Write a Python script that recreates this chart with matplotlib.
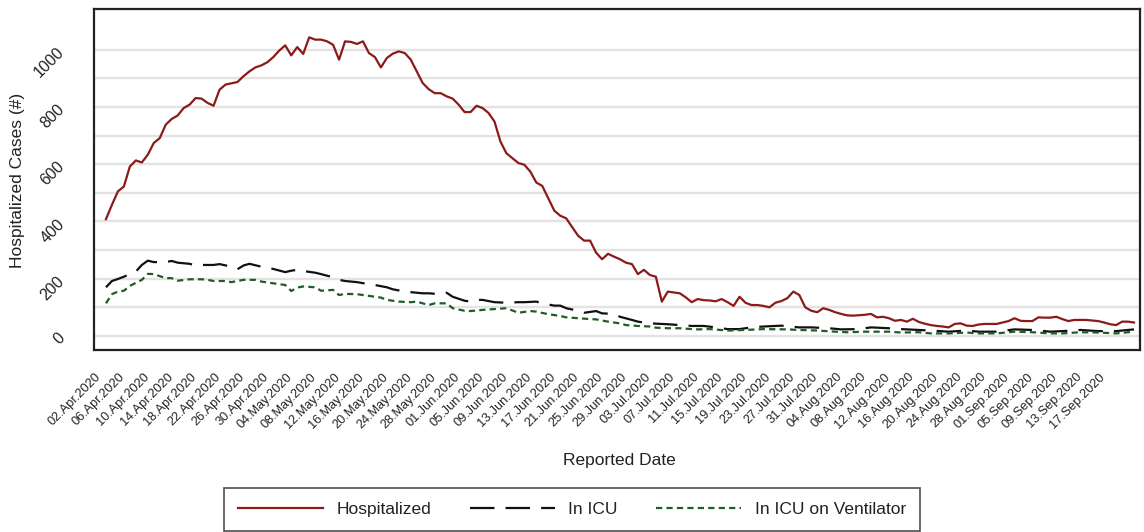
import numpy as np
import matplotlib
matplotlib.use("Agg")
import matplotlib.pyplot as plt
import matplotlib.transforms as mtransforms
import datetime as dt

plt.rcParams['font.family'] = ['Liberation Sans', 'DejaVu Sans']

start_date = dt.date(2020, 4, 2)

# ---- data (days after 02.Apr.2020, values) ----
hosp_days = [0, 1, 2, 3, 4, 5, 6, 7, 8, 9, 10, 11, 12, 13, 14, 15, 16, 17, 18, 19, 20,
             22, 23, 24, 25, 26, 27, 28, 29, 30, 31, 32, 33, 34, 35, 36, 37, 38, 39, 40,
             41, 42, 43, 44, 45, 46, 47, 48, 49, 50, 51, 52, 53, 54, 55, 56, 57, 58, 59,
             60, 61, 62, 63, 64, 65, 66, 67, 69, 70, 71, 72, 73, 74, 75, 76, 77, 78, 79,
             80, 81, 82, 83, 84, 85, 86, 87, 88, 89, 90, 91, 92, 93, 94, 96, 97, 98, 99,
             100, 101, 102, 103, 104, 105, 106, 107, 108, 109, 110, 111, 112, 113, 114,
             115, 116, 117, 118, 119, 120, 121, 122, 123, 124, 125, 127, 128, 129, 130,
             131, 132, 133, 134, 135, 136, 137, 138, 139, 140, 141, 142, 143, 144, 145,
             146, 147, 148, 149, 150, 151, 152, 153, 154, 155, 156, 157, 158, 159, 160,
             161, 162, 163, 164, 166, 167, 168, 169, 170, 171, 172]
hospitalized = [408, 458, 505, 522, 592, 613, 606, 633, 674, 691, 738, 758, 770, 796, 808,
                831, 829, 814, 804, 860, 878, 887, 907, 924, 938, 945, 956, 974, 997, 1015,
                980, 1009, 985, 1043, 1035, 1035, 1029, 1017, 965, 1029, 1027, 1020, 1029,
                988, 974, 938, 971, 986, 994, 988, 965, 924, 883, 862, 848, 848, 837, 829,
                808, 782, 782, 804, 796, 779, 749, 679, 638, 604, 598, 574, 536, 524, 481,
                438, 420, 411, 380, 350, 333, 333, 291, 268, 287, 277, 268, 256, 251, 216,
                231, 213, 207, 120, 155, 149, 135, 118, 129, 125, 124, 121, 129, 118, 105,
                137, 116, 108, 108, 105, 100, 116, 122, 132, 155, 143, 100, 88, 83, 97, 91,
                83, 77, 72, 71, 74, 77, 65, 67, 62, 53, 56, 50, 60, 49, 43, 38, 35, 33, 30,
                42, 44, 36, 35, 40, 42, 42, 42, 47, 52, 62, 53, 52, 52, 65, 64, 64, 67, 59,
                52, 56, 56, 56, 52, 47, 41, 38, 50, 50, 47]

icu_days = [0, 1, 2, 3, 5, 6, 7, 8, 10, 11, 12, 14, 15, 16, 18, 19, 21, 22, 23, 24, 26, 27,
            28, 30, 31, 32, 33, 35, 36, 38, 39, 40, 42, 44, 45, 47, 48, 50, 51, 53, 54, 56,
            57, 58, 60, 61, 62, 63, 65, 67, 69, 70, 72, 73, 75, 76, 77, 79, 80, 82, 83, 85,
            86, 88, 89, 91, 93, 94, 96, 98, 100, 102, 104, 106, 108, 110, 113, 116, 118,
            121, 123, 126, 128, 131, 133, 136, 138, 141, 144, 146, 149, 152, 155, 158, 160,
            163, 166, 169, 172]
in_icu = [170, 192, 199, 207, 225, 248, 263, 258, 258, 262, 256, 252, 246, 248, 248, 251,
          242, 233, 246, 252, 242, 239, 234, 223, 228, 231, 227, 221, 216, 205, 196, 192,
          188, 181, 178, 170, 163, 155, 153, 149, 149, 146, 151, 137, 123, 120, 126, 126,
          118, 116, 118, 118, 120, 114, 106, 106, 97, 88, 81, 87, 79, 77, 67, 56, 50, 44,
          42, 41, 38, 35, 35, 30, 24, 24, 30, 33, 36, 30, 30, 27, 23, 24, 30, 27, 24, 21,
          19, 15, 19, 15, 15, 23, 21, 15, 17, 21, 17, 17, 23]

vent_days = [0, 1, 2, 3, 4, 6, 7, 8, 10, 11, 12, 14, 16, 17, 18, 20, 21, 23, 25, 26, 28,
             30, 31, 32, 33, 35, 36, 38, 39, 40, 42, 44, 46, 47, 49, 51, 52, 54, 55, 57, 58,
             60, 61, 63, 65, 67, 69, 71, 72, 74, 76, 77, 79, 81, 82, 84, 86, 87, 89, 91, 92,
             94, 96, 98, 99, 101, 104, 107, 110, 114, 116, 119, 122, 124, 127, 131, 133,
             136, 138, 141, 144, 146, 149, 152, 155, 158, 160, 163, 166, 169, 172]
in_icu_vent = [114, 146, 155, 158, 175, 196, 217, 216, 202, 202, 193, 198, 198, 196, 192,
               192, 188, 196, 196, 190, 184, 178, 157, 169, 173, 170, 158, 161, 143, 147,
               146, 140, 134, 126, 120, 118, 120, 108, 114, 114, 97, 88, 87, 91, 94, 97,
               81, 87, 85, 76, 70, 65, 62, 59, 58, 50, 44, 38, 35, 33, 29, 27, 27, 24, 23,
               24, 19, 21, 24, 23, 21, 19, 15, 13, 15, 15, 12, 13, 9, 9, 12, 9, 9, 15, 13,
               9, 9, 13, 12, 9, 15]

tick_step_days = 4
n_ticks = 43
y_grid = list(range(0, 1001, 100))
y_ticks = list(range(0, 1001, 200))


def to_dates(days):
    return [start_date + dt.timedelta(days=int(d)) for d in days]


W, H = 1144, 532
fig = plt.figure(figsize=(W / 100, H / 100), dpi=100)
ax = fig.add_axes([94 / W, 1 - 350 / H, (1140 - 94) / W, (350 - 9) / H])

for g in y_grid:
    ax.axhline(g, color='#e3e3e3', lw=1.7, zorder=0)

ax.plot(to_dates(hosp_days), hospitalized, color='#8b1a1a', lw=1.6,
        label='Hospitalized', zorder=3)
ax.plot(to_dates(icu_days), in_icu, color='#111111', lw=1.6, dashes=(11, 5),
        label='In ICU', zorder=3)
ax.plot(to_dates(vent_days), in_icu_vent, color='#1f5c26', lw=1.6, dashes=(2.8, 1.9),
        label='In ICU on Ventilator', zorder=3)

x0 = start_date - dt.timedelta(days=2.52)
x1 = start_date + dt.timedelta(days=173.2)
ax.set_xlim(x0, x1)
ax.set_ylim(-49, 1142)

ticks = [start_date + dt.timedelta(days=tick_step_days * k) for k in range(n_ticks)]
ax.set_xticks(ticks)
ax.set_xticklabels([d.strftime('%d.%b.%Y') for d in ticks], rotation=45,
                   ha='right', va='top', rotation_mode='anchor', fontsize=9.2,
                   color='#222222')
ax.tick_params(axis='x', length=0, pad=15.0)
offset = mtransforms.ScaledTranslation(-11.0 / 100, 0, fig.dpi_scale_trans)
for lbl in ax.get_xticklabels():
    lbl.set_transform(lbl.get_transform() + offset)

ax.set_yticks(y_ticks)
ax.set_yticklabels([str(v) for v in y_ticks], rotation=45, ha='right', va='center',
                   rotation_mode='anchor', fontsize=11.5, color='#222222')
ax.tick_params(axis='y', length=0, pad=23)

for s in ax.spines.values():
    s.set_color('#222222')
    s.set_linewidth(1.6)

fig.text(619.5 / W, 1 - 460 / H, 'Reported Date', ha='center', va='center',
         fontsize=12.5, color='#222222')
fig.text(18 / W, 1 - 180 / H, 'Hospitalized Cases (#)', ha='center', va='center',
         rotation=90, fontsize=12.5, color='#222222')

leg = fig.legend(loc='center', bbox_to_anchor=(572 / W, 1 - 509.5 / H), ncol=3,
                 fontsize=12.5, frameon=True, fancybox=False, edgecolor='#222222',
                 handlelength=4.9, handletextpad=0.8, columnspacing=2.2,
                 borderpad=0.8)
leg.get_frame().set_linewidth(1.2)
for t in leg.get_texts():
    t.set_color('#222222')

fig.savefig('out.png', dpi=100)
